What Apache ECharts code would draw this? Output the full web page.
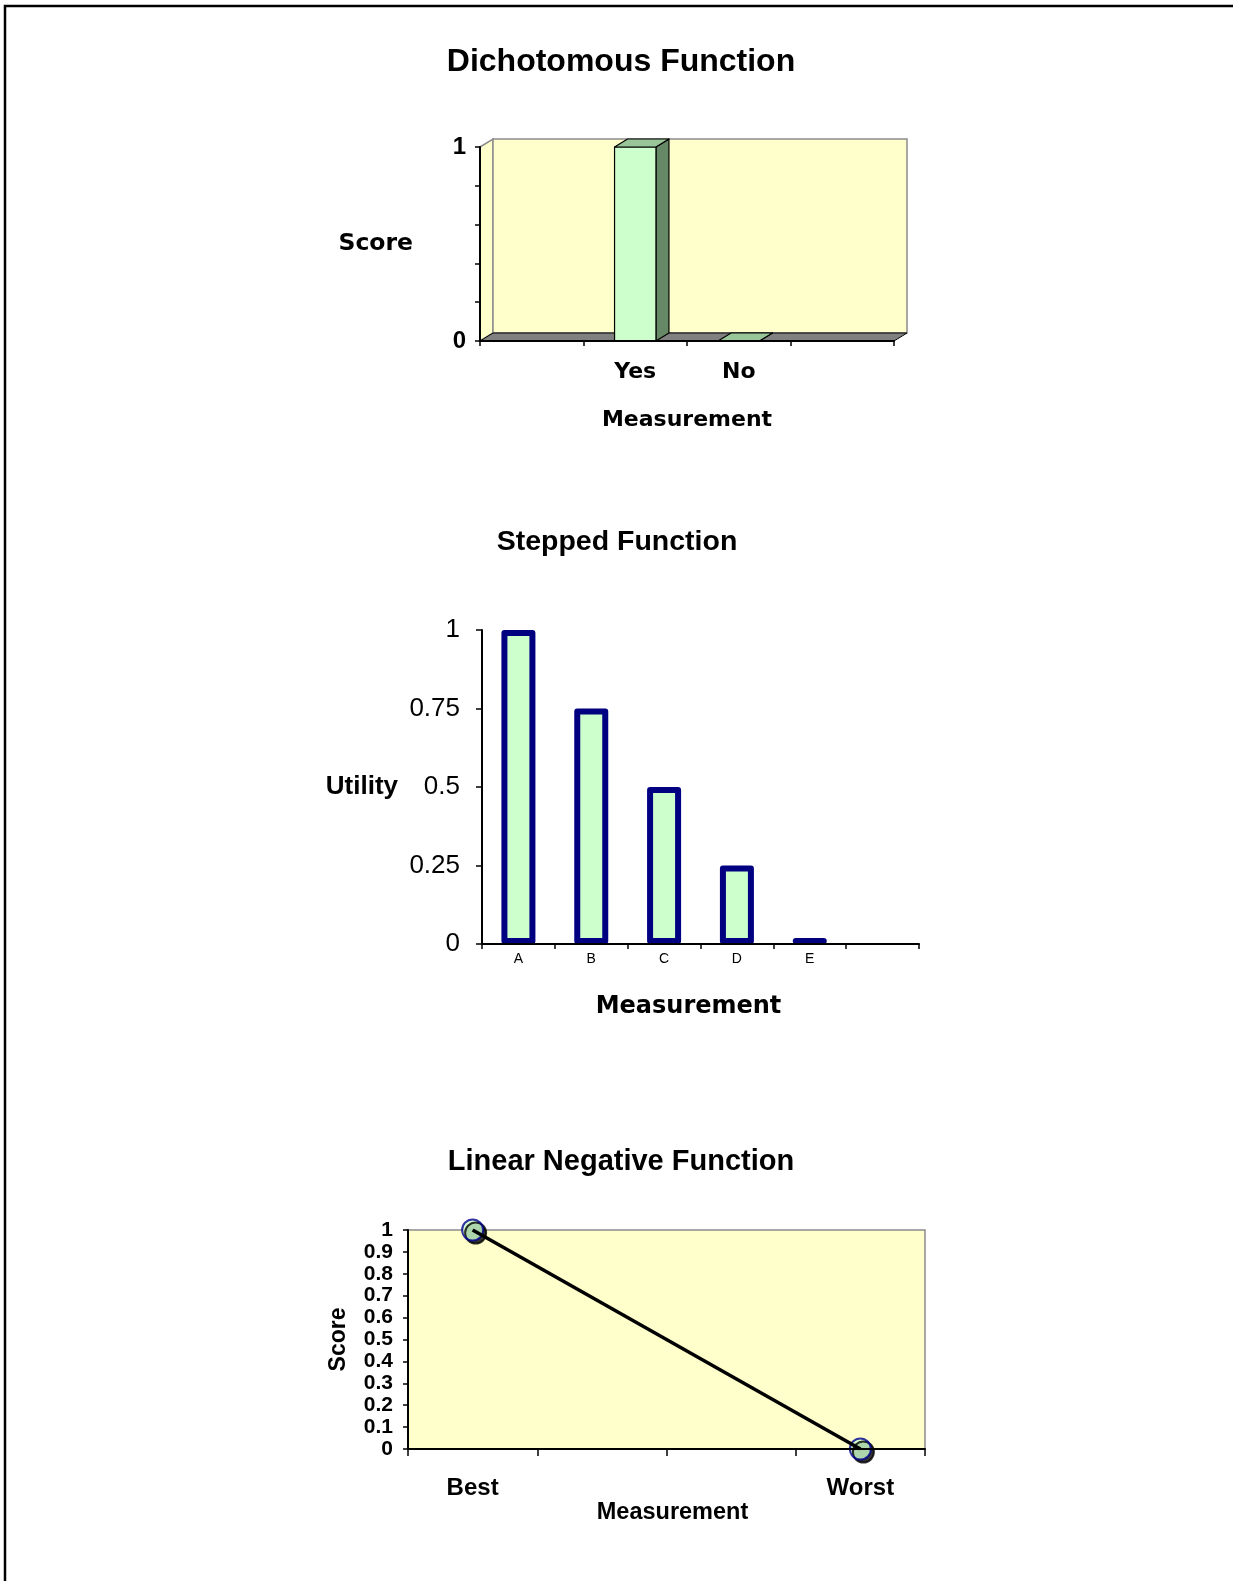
<!DOCTYPE html>
<html>
<head>
<meta charset="utf-8">
<script src="https://cdn.jsdelivr.net/npm/echarts@6/dist/echarts.min.js"></script>
<style>
  html, body { margin: 0; padding: 0; background: #fff; }
  #main { width: 1233px; height: 1581px; }
</style>
</head>
<body>
<div id="main"></div>
<script>
// chart 1: dichotomous
const dichoCategories = ['', 'Yes', 'No', ''];
const dichoScores = [null, 1, 0, null];
const dichoTicks = [0, 1];

// chart 2: stepped
const stepCategories = ['A', 'B', 'C', 'D', 'E', ''];
const stepUtility = [1, 0.75, 0.5, 0.25, 0, null];

// chart 3: linear negative
const linearCategories = ['Best', '', '', 'Worst'];
const linearScores = [1, null, null, 0];

const FONT = '"Liberation Sans", Arial, sans-serif';
const WIDE = '"DejaVu Sans", Verdana, sans-serif';
const DX = 13, DY = -8; // 3d depth of the first chart

const chart = echarts.init(document.getElementById('main'));

function renderWall(params, api) {
  const cs = params.coordSys;
  const x0 = cs.x, y0 = cs.y, x1 = cs.x + cs.width, y1 = cs.y + cs.height;
  return {
    type: 'group',
    children: [
      {
        type: 'polygon',
        shape: { points: [[x0, y0], [x0 + DX, y0 + DY], [x0 + DX, y1 + DY], [x0, y1]] },
        style: { fill: '#FFFFCC', stroke: '#8c8c8c', lineWidth: 1.5 }
      },
      {
        type: 'rect',
        shape: { x: x0 + DX, y: y0 + DY, width: cs.width, height: cs.height },
        style: { fill: '#FFFFCC', stroke: '#8c8c8c', lineWidth: 1.5 }
      },
      {
        type: 'polygon',
        shape: { points: [[x0, y1], [x1, y1], [x1 + DX, y1 + DY], [x0 + DX, y1 + DY]] },
        style: { fill: '#808080', stroke: '#000', lineWidth: 1 }
      }
    ]
  };
}

function renderBar3d(params, api) {
  const cat = api.value(0);
  const val = api.value(1);
  const top = api.coord([cat, val]);
  const base = api.coord([cat, 0]);
  const w = api.size([1, 0])[0] * 0.4;
  const xL = top[0] - w / 2, xR = top[0] + w / 2;
  const yT = top[1], yB = base[1];
  const edge = { stroke: '#000', lineWidth: 1.2, lineJoin: 'round' };
  return {
    type: 'group',
    children: [
      {
        type: 'polygon',
        shape: { points: [[xR, yT], [xR + DX, yT + DY], [xR + DX, yB + DY], [xR, yB]] },
        style: Object.assign({ fill: '#668866' }, edge)
      },
      {
        type: 'rect',
        shape: { x: xL, y: yT, width: w, height: yB - yT },
        style: Object.assign({ fill: '#CCFFCC' }, edge)
      },
      {
        type: 'polygon',
        shape: { points: [[xL, yT], [xL + DX, yT + DY], [xR + DX, yT + DY], [xR, yT]] },
        style: Object.assign({ fill: '#99C699' }, edge)
      }
    ]
  };
}

const option = {
  animation: false,
  backgroundColor: '#fff',
  textStyle: { fontFamily: FONT },
  graphic: [{
    type: 'rect',
    shape: { x: 5, y: 6, width: 1400, height: 1800 },
    style: { fill: null, stroke: '#000', lineWidth: 2.5 },
    silent: true
  }],
  title: [
    { text: 'Dichotomous Function', left: 621, top: 46, textAlign: 'center', padding: 0,
      textStyle: { fontSize: 32, fontWeight: 'bold', color: '#000', fontFamily: FONT } },
    { text: 'Stepped Function', left: 617, top: 528, textAlign: 'center', padding: 0,
      textStyle: { fontSize: 28.5, fontWeight: 'bold', color: '#000', fontFamily: FONT } },
    { text: 'Linear Negative Function', left: 621, top: 1147, textAlign: 'center', padding: 0,
      textStyle: { fontSize: 29, fontWeight: 'bold', color: '#000', fontFamily: FONT } }
  ],
  grid: [
    { left: 480, top: 147, width: 414, height: 194 },
    { left: 482, top: 630, width: 437, height: 314 },
    { left: 408, top: 1230, width: 517, height: 219, show: true,
      backgroundColor: '#FFFFCC', borderColor: '#8c8c8c', borderWidth: 1.5 }
  ],
  xAxis: [
    {
      gridIndex: 0, type: 'category', data: dichoCategories, z: 10,
      name: 'Measurement', nameLocation: 'middle', nameGap: 68,
      nameTextStyle: { fontSize: 22, fontWeight: 'bold', color: '#000', fontFamily: WIDE },
      axisLine: { lineStyle: { color: '#000', width: 2 } },
      axisTick: { show: true, length: 5, lineStyle: { color: '#000', width: 1.5 } },
      axisLabel: { margin: 20, fontSize: 22, fontWeight: 'bold', color: '#000', fontFamily: WIDE }
    },
    {
      gridIndex: 1, type: 'category', data: stepCategories, z: 10,
      name: 'Measurement', nameLocation: 'middle', nameGap: 51,
      nameTextStyle: { fontSize: 24, fontWeight: 'bold', color: '#000', fontFamily: WIDE,
        padding: [0, 24, 0, 0] },
      axisLine: { lineStyle: { color: '#000', width: 2 } },
      axisTick: { show: true, length: 5, lineStyle: { color: '#000', width: 1.5 } },
      axisLabel: { margin: 8, fontSize: 14, color: '#000', fontFamily: FONT }
    },
    {
      gridIndex: 2, type: 'category', data: linearCategories, z: 10,
      name: 'Measurement', nameLocation: 'middle', nameGap: 48,
      nameTextStyle: { fontSize: 23.5, fontWeight: 'bold', color: '#000', fontFamily: FONT,
        padding: [0, 0, 0, 12] },
      axisLine: { lineStyle: { color: '#000', width: 2 } },
      axisTick: { show: true, length: 7, lineStyle: { color: '#000', width: 1.5 } },
      axisLabel: { margin: 27, fontSize: 24, fontWeight: 'bold', color: '#000', fontFamily: FONT }
    }
  ],
  yAxis: [
    {
      gridIndex: 0, type: 'value', min: 0, max: 1, interval: 0.2, z: 10,
      name: 'Score', nameLocation: 'middle', nameRotate: 0, nameGap: 67,
      nameTextStyle: { fontSize: 23.5, fontWeight: 'bold', color: '#000', fontFamily: WIDE },
      splitLine: { show: false },
      axisLine: { show: true, lineStyle: { color: '#000', width: 2 } },
      axisTick: { show: true, length: 5, lineStyle: { color: '#000', width: 1.5 } },
      axisLabel: {
        margin: 14, fontSize: 24, fontWeight: 'bold', color: '#000', fontFamily: FONT,
        formatter: v => (dichoTicks.includes(v) ? String(v) : '')
      }
    },
    {
      gridIndex: 1, type: 'value', min: 0, max: 1, interval: 0.25, z: 10,
      name: 'Utility', nameLocation: 'middle', nameRotate: 0, nameGap: 84,
      nameTextStyle: { fontSize: 26, fontWeight: 'bold', color: '#000', fontFamily: FONT },
      splitLine: { show: false },
      axisLine: { show: true, lineStyle: { color: '#000', width: 2 } },
      axisTick: { show: true, length: 6, lineStyle: { color: '#000', width: 1.5 } },
      axisLabel: { margin: 22, fontSize: 26, color: '#000', fontFamily: FONT }
    },
    {
      gridIndex: 2, type: 'value', min: 0, max: 1, interval: 0.1, z: 10,
      name: 'Score', nameLocation: 'middle', nameGap: 58,
      nameTextStyle: { fontSize: 23, fontWeight: 'bold', color: '#000', fontFamily: FONT },
      splitLine: { show: false },
      axisLine: { show: true, lineStyle: { color: '#000', width: 2 } },
      axisTick: { show: true, length: 5, lineStyle: { color: '#000', width: 1.5 } },
      axisLabel: { margin: 15, fontSize: 21, fontWeight: 'bold', color: '#000', fontFamily: FONT }
    }
  ],
  series: [
    {
      type: 'custom', xAxisIndex: 0, yAxisIndex: 0, z: 1,
      renderItem: renderWall,
      data: [[0, 0]],
      silent: true
    },
    {
      type: 'custom', xAxisIndex: 0, yAxisIndex: 0, z: 2,
      renderItem: renderBar3d,
      data: dichoScores.map((v, i) => (v == null ? null : [i, v])).filter(Boolean)
    },
    {
      type: 'bar', xAxisIndex: 1, yAxisIndex: 1,
      data: stepUtility,
      barWidth: 34,
      barMinHeight: 6,
      clip: false,
      itemStyle: { color: '#CCFFCC', borderColor: '#000080', borderWidth: 6, borderJoin: 'round' }
    },
    {
      type: 'scatter', xAxisIndex: 2, yAxisIndex: 2, z: 3,
      data: linearScores,
      symbol: 'circle', symbolSize: 21,
      itemStyle: {
        color: '#CCFFCC', borderColor: '#000090', borderWidth: 2,
        shadowColor: '#000', shadowOffsetX: 3, shadowOffsetY: 3, shadowBlur: 0
      }
    },
    {
      type: 'line', xAxisIndex: 2, yAxisIndex: 2, z: 4,
      data: linearScores,
      connectNulls: true,
      showSymbol: false,
      lineStyle: { color: '#000', width: 3.5 }
    }
  ]
};

chart.setOption(option);
</script>
</body>
</html>
